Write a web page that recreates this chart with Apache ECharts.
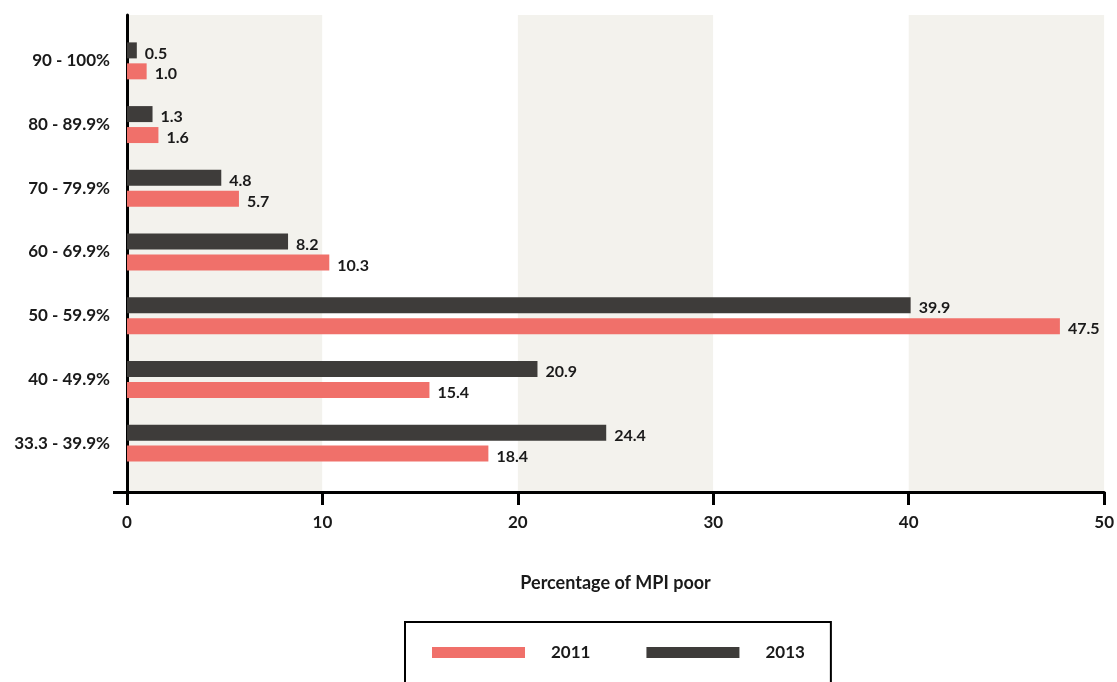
<!DOCTYPE html>
<html>
<head>
<meta charset="utf-8">
<script src="https://cdn.jsdelivr.net/npm/echarts@6/dist/echarts.min.js"></script>
<style>html,body{margin:0;padding:0;background:#fff}#c{width:1117px;height:682px}</style>
</head>
<body>
<div id="c"></div>
<script>
const categories = ['33.3 - 39.9%', '40 - 49.9%', '50 - 59.9%', '60 - 69.9%', '70 - 79.9%', '80 - 89.9%', '90 - 100%'];
const values2011 = [18.4, 15.4, 47.5, 10.3, 5.7, 1.6, 1.0];
const values2013 = [24.4, 20.9, 39.9, 8.2, 4.8, 1.3, 0.5];
const xTicks = [0, 10, 20, 30, 40, 50];
const axisName = 'Percentage of MPI poor';

const FONT = 'Lato';
const RED = '#f0706a';
const DARK = '#3e3c3a';
const TXT = '#1a1a1a';

const chart = echarts.init(document.getElementById('c'), null, {renderer: 'canvas'});
const labelStyle = {
  show: true, position: 'right', distance: 8, offset: [0, 3],
  fontFamily: FONT, fontWeight: 'bold', fontSize: 16, color: TXT,
  formatter: p => p.value.toFixed(1)
};
chart.setOption({
  animation: false,
  textStyle: {fontFamily: FONT},
  legend: {
    data: ['2011', '2013'],
    left: 405, top: 622,
    padding: [22, 26, 40, 27],
    borderColor: '#000', borderWidth: 2,
    itemWidth: 93, itemHeight: 11, itemGap: 56,
    icon: 'rect',
    textStyle: {fontFamily: FONT, fontWeight: 'bold', fontSize: 17, color: TXT, padding: [0, 0, 0, 21]}
  },
  grid: [
    {left: 127, right: 8, top: 15, height: 477},
    {left: 127, right: 8, top: 29, height: 446}
  ],
  xAxis: [
    {
      gridIndex: 0, type: 'value', min: xTicks[0], max: xTicks[xTicks.length - 1], interval: 10,
      axisLine: {show: true, lineStyle: {color: '#000', width: 3}},
      axisTick: {show: true, length: 13, lineStyle: {color: '#000', width: 3}},
      axisLabel: {margin: 22, fontFamily: FONT, fontWeight: 'bold', fontSize: 17, color: TXT},
      splitLine: {show: false},
      splitArea: {show: true, areaStyle: {color: ['#f3f2ed', '#ffffff']}},
      name: axisName, nameLocation: 'middle', nameGap: 82,
      nameTextStyle: {fontFamily: FONT, fontWeight: 'bold', fontSize: 18, color: TXT}
    },
    {
      gridIndex: 1, type: 'value', min: 0, max: 50, show: false
    }
  ],
  yAxis: [
    {
      gridIndex: 0, type: 'value', min: 0, max: 1,
      axisLine: {show: true, lineStyle: {color: '#000', width: 3}},
      axisTick: {show: true, length: 14, customValues: [0], lineStyle: {color: '#000', width: 3}},
      axisLabel: {show: false},
      splitLine: {show: false}
    },
    {
      gridIndex: 1, type: 'category', data: categories,
      axisLine: {show: false}, axisTick: {show: false},
      axisLabel: {margin: 17, padding: [6, 0, 0, 0], fontFamily: FONT, fontWeight: 'bold', fontSize: 17, color: TXT}
    }
  ],
  series: [
    {
      name: '2013', type: 'bar', xAxisIndex: 1, yAxisIndex: 1,
      data: values2013, barWidth: 16, barGap: '31%',
      itemStyle: {color: DARK}, label: labelStyle
    },
    {
      name: '2011', type: 'bar', xAxisIndex: 1, yAxisIndex: 1,
      data: values2011, barWidth: 16, barGap: '31%',
      itemStyle: {color: RED}, label: labelStyle
    }
  ]
});
</script>
</body>
</html>
